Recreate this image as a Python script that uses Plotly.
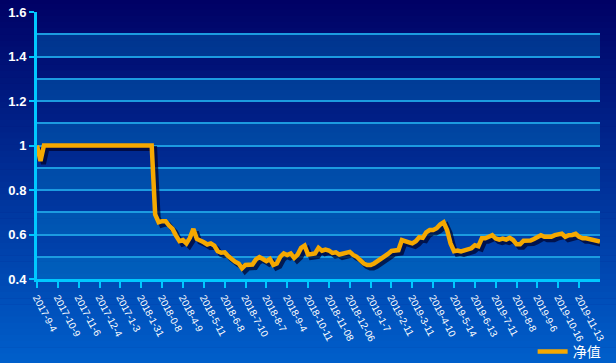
import plotly.graph_objects as go

# ---------------- data ----------------
series_name = "净值"

nav = [
    1.0, 0.93, 1.0,
    1.0, 1.0, 1.0, 1.0, 1.0, 1.0, 1.0, 1.0, 1.0, 1.0,
    1.0, 1.0, 1.0, 1.0, 1.0, 1.0, 1.0, 1.0, 1.0, 1.0,
    1.0, 1.0, 1.0, 1.0, 1.0, 1.0, 1.0, 1.0, 1.0, 1.0,
    1.0,
    0.69, 0.655, 0.66, 0.66, 0.64, 0.625, 0.595, 0.57, 0.575, 0.56,
    0.585, 0.625, 0.58, 0.575, 0.565, 0.555, 0.56, 0.55, 0.525, 0.518,
    0.52, 0.503, 0.488, 0.478, 0.47, 0.448, 0.463, 0.466, 0.465, 0.488,
    0.498, 0.49, 0.48, 0.49, 0.463, 0.47, 0.5, 0.515, 0.508, 0.515,
    0.495, 0.51, 0.54, 0.55, 0.51, 0.512, 0.515, 0.54, 0.527, 0.532,
    0.528, 0.517, 0.52, 0.51, 0.514, 0.515, 0.522, 0.508, 0.5, 0.485,
    0.47, 0.463, 0.463, 0.47, 0.48, 0.487, 0.5, 0.513, 0.526, 0.527,
    0.53, 0.575, 0.568, 0.565, 0.56, 0.57, 0.588, 0.585, 0.61, 0.62,
    0.62, 0.628, 0.645, 0.655, 0.62, 0.56, 0.525, 0.528, 0.524, 0.53,
    0.537, 0.538, 0.552, 0.547, 0.583, 0.583, 0.59, 0.597, 0.582, 0.577,
    0.582, 0.577, 0.585, 0.575, 0.556, 0.556, 0.572, 0.572, 0.573, 0.58,
    0.588, 0.597, 0.59, 0.59, 0.59, 0.597, 0.598, 0.604, 0.59, 0.597,
    0.598, 0.603, 0.59, 0.583, 0.583, 0.58, 0.575, 0.572, 0.568,
]

tick_labels = [
    "2017-9-4", "2017-10-9", "2017-11-6", "2017-12-4", "2017-1-3",
    "2018-1-31", "2018-0-8", "2018-4-9", "2018-5-11", "2018-6-8",
    "2018-7-10", "2018-8-7", "2018-9-4", "2018-10-11", "2018-11-08",
    "2018-12-06", "2019-1-7", "2019-2-11", "2019-3-11", "2019-4-10",
    "2019-5-14", "2019-6-13", "2019-7-11", "2019-8-8", "2019-9-6",
    "2019-10-16", "2019-11-13",
]

y_min, y_max = 0.4, 1.6

# ---------------- layout constants ----------------
W, H = 616, 363
L, R, T, B = 37, 16, 12, 84
pw, ph = W - L - R, H - T - B

idx = list(range(len(nav)))
points_per_tick = 6
tickvals = [i * points_per_tick for i in range(len(tick_labels))]
xmax = len(nav) - 1

# shadow offset (3px right, 3px down) expressed in axis units
dx = 3 * xmax / pw
dy = 3 * (y_max - y_min) / ph

AXIS = "#00c8ff"
GRID = "#1c9be0"

fig = go.Figure()
# shadow (hidden primary axes, shifted range)
fig.add_trace(go.Scatter(
    x=idx, y=nav, xaxis="x", yaxis="y", mode="lines",
    line=dict(color="rgba(0,0,40,0.7)", width=5),
    showlegend=False, hoverinfo="skip",
))
# main line
fig.add_trace(go.Scatter(
    x=idx, y=nav, xaxis="x2", yaxis="y2", mode="lines",
    name=series_name, line=dict(color="#f5a800", width=4.5),
))

shapes = []
# background gradient
n = 60
y0p, y1p = -B / ph - 0.01, 1 + T / ph + 0.01
top_c, bot_c = (0, 0, 100), (0, 96, 204)
for k in range(n):
    t = (k + 0.5) / n
    c = tuple(int(round(top_c[j] + (bot_c[j] - top_c[j]) * t)) for j in range(3))
    ya = y1p - (y1p - y0p) * k / n
    yb = y1p - (y1p - y0p) * (k + 1) / n
    shapes.append(dict(type="rect", xref="paper", yref="paper",
                       x0=-L / pw - 0.01, x1=1 + R / pw + 0.01, y0=yb - 0.002, y1=ya,
                       fillcolor="rgb(%d,%d,%d)" % c, line=dict(width=0), layer="below"))
# alternating light bands (in plot-fraction units)
span = y_max - y_min
band = 0.1
v = y_min
while v < y_max - 1e-9:
    shapes.append(dict(type="rect", xref="paper", yref="paper", x0=0, x1=1,
                       y0=(v - y_min) / span, y1=(v + band - y_min) / span,
                       fillcolor="rgba(0,140,210,0.33)",
                       line=dict(width=0), layer="below"))
    v += 2 * band

fig.update_layout(
    width=W, height=H,
    margin=dict(l=L, r=R, t=T, b=B, autoexpand=False),
    paper_bgcolor="#000066",
    plot_bgcolor="rgba(0,0,0,0)",
    font=dict(family="Liberation Sans, Arial, sans-serif", color="white"),
    shapes=shapes,
    xaxis=dict(range=[-dx, xmax - dx], visible=False, showgrid=False, automargin=False),
    yaxis=dict(range=[y_min + dy, y_max + dy], visible=False, showgrid=False, automargin=False),
    xaxis2=dict(
        overlaying="x", anchor="y2", side="bottom", automargin=False,
        range=[0, xmax], tickmode="array", tickvals=tickvals, ticktext=tick_labels,
        tickangle=62, tickfont=dict(size=10, color="white"),
        ticks="outside", ticklen=6, tickwidth=2, tickcolor=AXIS,
        showline=True, linecolor=AXIS, linewidth=3,
        showgrid=False, zeroline=False,
    ),
    yaxis2=dict(
        overlaying="y", anchor="x2", side="left", automargin=False,
        range=[y_min, y_max], tick0=y_min, dtick=0.2,
        tickfont=dict(size=13, color="white", weight="bold"),
        ticks="outside", ticklen=5, tickwidth=2, tickcolor=AXIS,
        showline=True, linecolor=AXIS, linewidth=3,
        showgrid=True, gridcolor=GRID, gridwidth=1.5,
        minor=dict(tick0=y_min, dtick=0.1, showgrid=True, gridcolor=GRID, gridwidth=1.5, ticks=""),
        zeroline=False,
    ),
    showlegend=True,
    legend=dict(
        x=1.01, xanchor="right", y=-0.273, yanchor="middle",
        font=dict(family="Noto Sans CJK SC", size=14, color="white"),
        bgcolor="rgba(0,0,0,0)", orientation="h",
    ),
)

fig.write_html(
    "out.html",
    config={"displayModeBar": False},
    post_script="document.body.style.margin='0';document.body.style.overflow='hidden';",
)
